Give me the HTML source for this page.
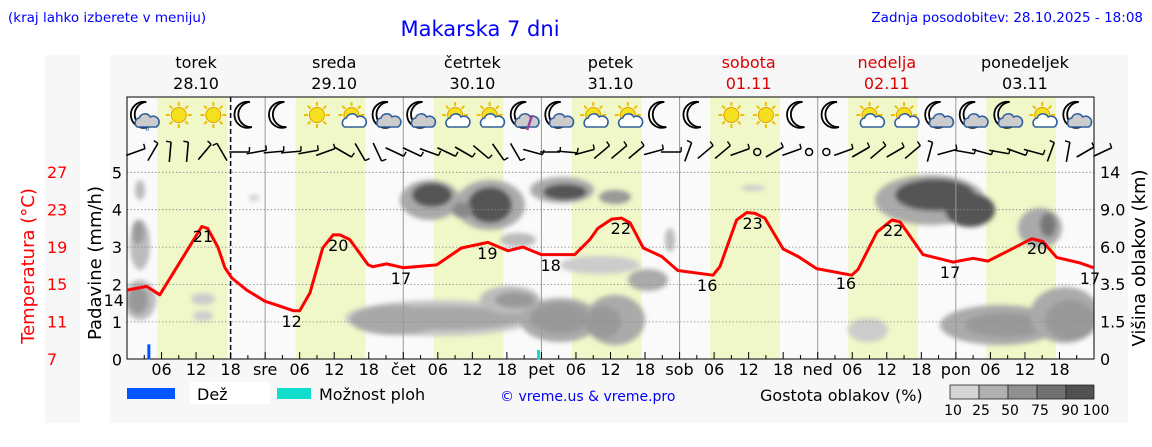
<!DOCTYPE html>
<html><head><meta charset="utf-8"><style>
body{margin:0;background:#fff;width:1152px;height:443px;overflow:hidden;font-family:"DejaVu Sans","Liberation Sans",sans-serif}
svg text{font-family:"DejaVu Sans","Liberation Sans",sans-serif}
</style></head><body>
<svg id="chart" width="1152" height="443" viewBox="0 0 1152 443" xmlns="http://www.w3.org/2000/svg">
<defs>
<filter id="blur" x="-20%" y="-20%" width="140%" height="140%"><feGaussianBlur stdDeviation="2.5"/></filter>
<clipPath id="plotclip"><rect x="127" y="160" width="967" height="199"/></clipPath>
</defs>
<rect x="45" y="55" width="35" height="368" fill="#f7f7f7"/>
<rect x="110" y="55" width="1018" height="368" fill="#f7f7f7"/>
<text x="8" y="22" font-size="13.5" fill="#0000ff">(kraj lahko izberete v meniju)</text>
<text x="480" y="36" font-size="21" fill="#0000ff" text-anchor="middle">Makarska 7 dni</text>
<text x="1143" y="22" font-size="13.5" fill="#0000ff" text-anchor="end">Zadnja posodobitev: 28.10.2025 - 18:08</text>
<g id="bg"></g>
<g id="clouds" clip-path="url(#plotclip)" filter="url(#blur)"></g>
<g id="grid"></g>
<g id="icons"></g>
<g id="wind"></g>
<g id="rain"></g>
<g id="temp"></g>
<g id="axes"></g>
<g id="legend">
<rect x="127" y="388" width="48" height="11" fill="#0055ff"/>
<rect x="190" y="382" width="80" height="22" fill="#fff"/>
<text x="197" y="400" font-size="16">Dež</text>
<rect x="277" y="388" width="34" height="11" fill="#11ddcc"/>
<text x="319" y="400" font-size="16">Možnost ploh</text>
<text x="500" y="401" font-size="14" fill="#0000ff">© vreme.us &amp; vreme.pro</text>
<text x="760" y="401" font-size="16">Gostota oblakov (%)</text>
<g stroke="#222" stroke-width="0.8">
<rect x="950" y="385" width="29" height="14" fill="#d4d4d4"/><rect x="979" y="385" width="29" height="14" fill="#b0b0b0"/><rect x="1008" y="385" width="29" height="14" fill="#909090"/><rect x="1037" y="385" width="29" height="14" fill="#707070"/><rect x="1066" y="385" width="28" height="14" fill="#505050"/>
</g>
<text y="415" font-size="14" text-anchor="middle"><tspan x="953">10</tspan><tspan x="981">25</tspan><tspan x="1010">50</tspan><tspan x="1040">75</tspan><tspan x="1070">90</tspan><tspan x="1096">100</tspan></text>
</g>
</svg>
<script>
const hours = [0,3.4,5.7,9.2,13,14,15.8,17,18.2,20.8,24,26,28.9,30,31.8,34,35.8,37,38.7,41.9,42.7,45.1,48,53.8,58.1,62.7,66.2,68.8,72,77.8,80.4,81.8,84.2,85.9,87.4,89.7,92.9,95.7,101.8,103,105.9,107.7,109.1,110.8,114,116.6,119.8,125.9,127,130.3,132.9,134.3,138.3,143.5,147,149.6,153.4,157.2,159.1,161.5,165.6,167.9];
const temps = [14.4,14.8,13.9,17.4,21.2,21,19,16.8,15.7,14.4,13.2,12.8,12.2,12.2,14.1,18.9,20.3,20.3,19.8,17.1,16.9,17.2,16.8,17.1,18.9,19.5,18.6,19,18.2,18.2,19.8,21,22,22.1,21.6,18.9,18,16.5,16,16.9,21.9,22.7,22.6,22.1,18.8,18,16.7,16,16.6,20.6,21.9,21.7,18.2,17.4,17.8,17.5,18.7,19.9,19.6,17.9,17.3,16.8];
const labelHours = [-2.3,13.2,28.6,36.7,47.6,62.6,73.6,85.8,100.8,108.7,124.9,133.1,143,158.1,167.3];
const labelTemps = [14,21,12,20,17,19,18,22,16,23,16,22,17,20,17];
const labelY = [306,242,327,251,284,259,271,234,291,229,289,236,278,254,284];
const dayNames = ["torek","sreda","četrtek","petek","sobota","nedelja","ponedeljek"];
const dayDates = ["28.10","29.10","30.10","31.10","01.11","02.11","03.11"];
const weekend = [false,false,false,false,true,true,false];
const midLabels = ["sre","čet","pet","sob","ned","pon"];
const precipTicks = [0,1,2,3,4,5];
const tempTicks = [27,23,19,15,11,7];
const heightTicks = ["14","9.0","6.0","3.5","1.5","0"];
const icons = ["mr","s","s","m","m","s","sc","mc","mc","sc","sc","ml","mc","sc","sc","m","m","s","s","m","m","sc","sc","mc","mc","mc","sc","mc"];
const windAngles = [-20,-60,-85,-85,-50,-120,0,-10,-5,-5,-10,-20,30,60,65,25,25,20,25,30,40,55,60,15,0,5,-15,-40,-40,-40,-15,0,-70,-40,-40,-20,999,-30,-20,999,999,-20,-30,-40,-30,-40,-75,-15,10,15,10,20,15,-70,-80,-30,-25];
const rainHours = [3.8];
const rainVals = [0.4];
const showerHours = [71.5];
const showerVals = [0.25];

const X0=127, PW=967, HRS=168;
const x = h => X0 + h*PW/HRS;
const yP = v => 359.3 - v*37.4;
const yT = t => 359.3 - (t-7)*9.35;
const NS="http://www.w3.org/2000/svg";
function mk(parent,tag,attrs,text){const e=document.createElementNS(NS,tag);for(const k in attrs)e.setAttribute(k,attrs[k]);if(text!==undefined)e.textContent=text;document.getElementById(parent).appendChild(e);return e;}

let r=mk('bg','rect',{x:127,y:97,width:967,height:262,fill:'#fafafa'});


for(let d=0;d<7;d++){
  let b=mk('bg','rect',{x:x(d*24+5.3),y:97,width:x(d*24+17.4)-x(d*24+5.3),height:262,fill:'#f0f7c8'});
  
  
  let t1=mk('axes','text',{x:x(d*24+12),y:68,'font-size':16,'text-anchor':'middle',fill:weekend[d]?'#dd0000':'#000'},dayNames[d]);
  
  
  let t2=mk('axes','text',{x:x(d*24+12),y:89,'font-size':16,'text-anchor':'middle',fill:weekend[d]?'#dd0000':'#000'},dayDates[d]);
  
  
}
// cloud density blobs (absolute pixel cx, cy, rx, ry, colour)
const blobs=[
[140,190,5,10,'#bbb'],[140,245,10,25,'#bbb'],[138,232,6,12,'#999'],[140,300,16,20,'#bbb'],[138,300,10,14,'#999'],
[203,299,12,6,'#ccc'],[203,316,10,5,'#ccc'],[254,198,5,3,'#ccc'],
[440,318,95,18,'#c8c8c8'],[440,318,85,12,'#a8a8a8'],[395,320,45,15,'#a8a8a8'],
[430,200,30,20,'#aaa'],[432,195,20,12,'#555'],[490,205,35,25,'#aaa'],[490,205,22,18,'#555'],[462,210,10,8,'#888'],
[518,240,18,7,'#bbb'],[510,300,30,14,'#bbb'],[515,300,20,8,'#999'],[560,320,40,22,'#aaa'],[560,318,30,15,'#999'],
[562,190,32,13,'#aaa'],[565,192,22,8,'#555'],[615,197,16,7,'#999'],[600,265,40,9,'#ccc'],[648,280,20,11,'#aaa'],
[615,320,30,25,'#aaa'],[603,322,18,16,'#999'],[670,240,5,12,'#bbb'],[753,188,12,3,'#ccc'],
[930,200,55,25,'#aaa'],[935,195,40,16,'#555'],[970,210,25,17,'#555'],[1040,228,22,20,'#aaa'],[1048,225,8,12,'#777'],
[868,330,20,12,'#ccc'],[1000,325,60,20,'#aaa'],[1005,325,40,12,'#999'],[1065,315,35,28,'#aaa'],[1070,320,25,20,'#999']];
blobs.forEach(b=>{let e=mk('clouds','ellipse',{cx:b[0],cy:b[1],rx:b[2],ry:b[3],fill:b[4]});});
precipTicks.slice(1).forEach(v=>{let g=mk('grid','line',{x1:127,x2:1094,y1:yP(v),y2:yP(v),stroke:'#888','stroke-dasharray':'1.5,2','stroke-width':0.8});});
for(let d=1;d<7;d++){let g=mk('grid','line',{x1:x(d*24),x2:x(d*24),y1:97,y2:359,stroke:'#999','stroke-width':1});}
let dl=mk('grid','line',{x1:x(18),x2:x(18),y1:97,y2:359,stroke:'#000','stroke-width':1.5,'stroke-dasharray':'5,3'});


icons.forEach((ic,i)=>{
  const cx=x(3+i*6), cy=115;
  const g=mk('icons','g',{});
  
  
  if(ic[0]==='m'){
    const p=document.createElementNS(NS,'path');
    p.setAttribute('d',`M${cx+2},${cy-13} A13,13 0 1,0 ${cx+4},${cy+12} A11,11 0 1,1 ${cx+2},${cy-13}Z`);
    p.setAttribute('fill','#fff');p.setAttribute('stroke','#000');p.setAttribute('stroke-width','1.8');g.appendChild(p);
  } else {
    for(let k=0;k<8;k++){const a=k*Math.PI/4;const l=document.createElementNS(NS,'line');l.setAttribute('x1',cx+Math.cos(a)*9);l.setAttribute('y1',cy+Math.sin(a)*9);l.setAttribute('x2',cx+Math.cos(a)*13);l.setAttribute('y2',cy+Math.sin(a)*13);l.setAttribute('stroke','#f0c000');l.setAttribute('stroke-width','2');g.appendChild(l);}
    const c=document.createElementNS(NS,'circle');c.setAttribute('cx',cx);c.setAttribute('cy',cy);c.setAttribute('r',7.5);c.setAttribute('fill','#f5e020');c.setAttribute('stroke','#e0a000');g.appendChild(c);
  }
  if(ic[1]==='c'||ic[1]==='r'||ic[1]==='l'){
    const cl=document.createElementNS(NS,'path');
    const ox=cx+3, oy=cy+6, fill= ic[0]==='s'?'#fff':'#ccc';
    cl.setAttribute('d',`M${ox-10},${oy+6} a5,5 0 0,1 2,-9 a6,6 0 0,1 11,-1 a5,5 0 0,1 6,10 Z`);
    cl.setAttribute('fill',fill);cl.setAttribute('stroke','#3060a0');cl.setAttribute('stroke-width','1.6');g.appendChild(cl);
  }
  if(ic[1]==='r'){const t=document.createElementNS(NS,'text');t.setAttribute('x',cx+3);t.setAttribute('y',cy+20);t.setAttribute('font-size',10);t.setAttribute('fill','#3060a0');t.setAttribute('text-anchor','middle');t.textContent='"';g.appendChild(t);}
  if(ic[1]==='l'){const l=document.createElementNS(NS,'line');l.setAttribute('x1',cx+8);l.setAttribute('y1',cy);l.setAttribute('x2',cx+3);l.setAttribute('y2',cy+15);l.setAttribute('stroke','#a040a0');l.setAttribute('stroke-width','2.5');g.appendChild(l);}
});
let ib=mk('icons','rect',{x:127,y:97,width:967,height:262,fill:'none',stroke:'#000','stroke-width':1});


windAngles.forEach((a,i)=>{
  const cx=x(1.5+i*3), cy=152;
  if(a===999){let c=mk('wind','circle',{cx:cx,cy:cy,r:3.5,fill:'none',stroke:'#000','stroke-width':1.5});return;}
  const rad=a*Math.PI/180, L=10;
  const dx=Math.cos(rad)*L, dy=Math.sin(rad)*L;
  let l=mk('wind','line',{x1:cx-dx,y1:cy-dy,x2:cx+dx,y2:cy+dy,stroke:'#000','stroke-width':1.6});
  
  
  mk('wind','line',{x1:cx+dx,y1:cy+dy,x2:cx+dx+Math.cos(rad-1.5)*5,y2:cy+dy+Math.sin(rad-1.5)*5,stroke:'#000','stroke-width':1.4});
});
rainHours.forEach((h,i)=>{let b=mk('rain','rect',{x:x(h)-1.5,y:yP(rainVals[i]),width:3,height:yP(0)-yP(rainVals[i]),fill:'#0055ff'});});
showerHours.forEach((h,i)=>{let b=mk('rain','rect',{x:x(h)-1.5,y:yP(showerVals[i]),width:3,height:yP(0)-yP(showerVals[i]),fill:'#11ddcc'});});
let pts=hours.map((h,i)=>x(h).toFixed(1)+','+yT(temps[i]).toFixed(1)).join(' ');
let pl=mk('temp','polyline',{points:pts,fill:'none',stroke:'#ff0000','stroke-width':3,'stroke-linejoin':'round','clip-path':'url(#plotclip)'});


labelHours.forEach((h,i)=>{let t=mk('temp','text',{x:x(h),y:labelY[i],'font-size':16,'text-anchor':'middle'},labelTemps[i]);});
precipTicks.forEach(v=>{let t=mk('axes','text',{x:122,y:yP(v)+6,'font-size':16,'text-anchor':'end'},v);});
tempTicks.forEach((v,i)=>{let t=mk('axes','text',{x:47,y:178+i*37.4,'font-size':16,'text-anchor':'start',fill:'#ff0000'},v);});
heightTicks.forEach((v,i)=>{let t=mk('axes','text',{x:1100,y:178+i*37.4,'font-size':16},v);});
for(let h=3;h<168;h+=3){mk('axes','line',{x1:x(h),x2:x(h),y1:359,y2:h%6===0?352:355,stroke:'#000','stroke-width':1});}
for(let d=0;d<7;d++){
  ["06","12","18"].forEach((s,k)=>{let t=mk('axes','text',{x:x(d*24+6+k*6),y:375,'font-size':16,'text-anchor':'middle'},s);});
  if(d>0){let t=mk('axes','text',{x:x(d*24),y:375,'font-size':16,'text-anchor':'middle'},midLabels[d-1]);}
}
let t1=mk('axes','text',{x:0,y:0,'font-size':18,fill:'#ff0000','text-anchor':'middle',transform:'translate(34,266) rotate(-90)'},'Temperatura (°C)');


let t2=mk('axes','text',{x:0,y:0,'font-size':18,'text-anchor':'middle',transform:'translate(101,263) rotate(-90)'},'Padavine (mm/h)');


let t3=mk('axes','text',{x:0,y:0,'font-size':18,'text-anchor':'middle',transform:'translate(1145,258) rotate(-90)'},'Višina oblakov (km)');


</script>
</body></html>
